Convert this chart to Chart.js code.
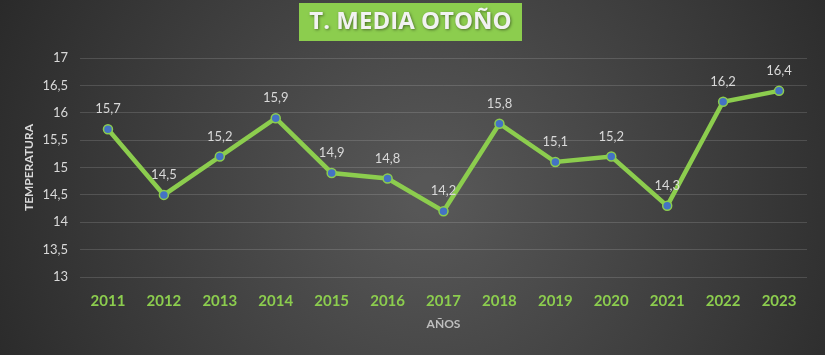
<!DOCTYPE html>
<html><head><meta charset="utf-8">
<script src="https://cdn.jsdelivr.net/npm/chart.js@4.4.1/dist/chart.umd.min.js"></script>
<style>html,body{margin:0;padding:0;background:#3a3a3a;}#wrap{width:825px;height:355px;position:relative;}</style>
</head><body><div id="wrap"><canvas id="c" width="825" height="355"></canvas></div>
<script>
const years = ['2011','2012','2013','2014','2015','2016','2017','2018','2019','2020','2021','2022','2023'];
const temps = [15.7,14.5,15.2,15.9,14.9,14.8,14.2,15.8,15.1,15.2,14.3,16.2,16.4];
const titleText = 'T. MEDIA OTOÑO';
const yTitle = 'TEMPERATURA';
const xTitle = 'AÑOS';

const fmt = v => String(v).replace('.', ',');

const bgPlugin = {
  id: 'bg',
  beforeDraw(chart) {
    const ctx = chart.ctx, w = chart.width, h = chart.height;
    ctx.save();
    const g = ctx.createRadialGradient(w*0.52, h*0.55, 20, w*0.52, h*0.55, w*0.62);
    g.addColorStop(0, '#575757');
    g.addColorStop(1, '#262626');
    ctx.fillStyle = g;
    ctx.fillRect(0, 0, w, h);
    ctx.fillStyle = '#8ccd4e';
    ctx.fillRect(299, 3, 223, 38);
    ctx.font = 'bold 24px "Open Sans", Lato, sans-serif';
    ctx.textAlign = 'center';
    ctx.textBaseline = 'middle';
    ctx.shadowColor = 'rgba(0,0,0,0.45)';
    ctx.shadowBlur = 3;
    ctx.shadowOffsetX = 1; ctx.shadowOffsetY = 1;
    ctx.fillStyle = '#f2f2f2';
    ctx.fillText(titleText, 410.5, 22);
    ctx.restore();
  }
};

const labelPlugin = {
  id: 'vals',
  afterDatasetsDraw(chart) {
    const ctx = chart.ctx;
    const meta = chart.getDatasetMeta(0);
    ctx.save();
    ctx.font = '13px Lato, "Open Sans", sans-serif';
    ctx.fillStyle = '#d9d9d9';
    ctx.textAlign = 'center';
    ctx.textBaseline = 'middle';
    meta.data.forEach((pt, i) => {
      ctx.fillText(fmt(temps[i]), pt.x, pt.y - 20);
    });
    ctx.restore();
  }
};

new Chart(document.getElementById('c'), {
  type: 'line',
  data: {
    labels: years,
    datasets: [{
      data: temps,
      borderColor: '#8ccd4e',
      borderWidth: 4.5,
      pointBackgroundColor: '#4472c4',
      pointBorderColor: '#8ccd4e',
      pointBorderWidth: 1.5,
      pointRadius: 4.5,
      tension: 0,
      fill: false
    }]
  },
  options: {
    responsive: false,
    animation: false,
    devicePixelRatio: 1,
    layout: { padding: { top: 58, left: 18, right: 18, bottom: 20 } },
    plugins: { legend: { display: false }, tooltip: { enabled: false }, title: { display: false } },
    scales: {
      x: {
        offset: true,
        grid: { display: false },
        border: { display: false },
        ticks: { color: '#8ccd4e', font: { family: 'Lato, "Open Sans", sans-serif', size: 15, weight: 'bold' }, padding: 7 },
        title: { display: true, text: xTitle, color: '#bfbfbf', font: { family: 'Lato, "Open Sans", sans-serif', size: 12, weight: 'bold' }, padding: { top: 6 } },
        afterFit(s) { s.height = 355 - 20 - 277; }
      },
      y: {
        min: 13, max: 17,
        ticks: { stepSize: 0.5, color: '#d9d9d9', font: { family: 'Lato, "Open Sans", sans-serif', size: 13 }, padding: 12, callback: v => fmt(v) },
        grid: { color: 'rgba(255,255,255,0.14)', lineWidth: 1, drawTicks: false },
        border: { display: false },
        title: { display: true, text: yTitle, color: '#d9d9d9', font: { family: 'Lato, "Open Sans", sans-serif', size: 12, weight: 'bold' }, padding: { bottom: 8 } },
        afterFit(s) { s.width = 80 - 18; }
      }
    }
  },
  plugins: [bgPlugin, labelPlugin]
});
</script></body></html>
